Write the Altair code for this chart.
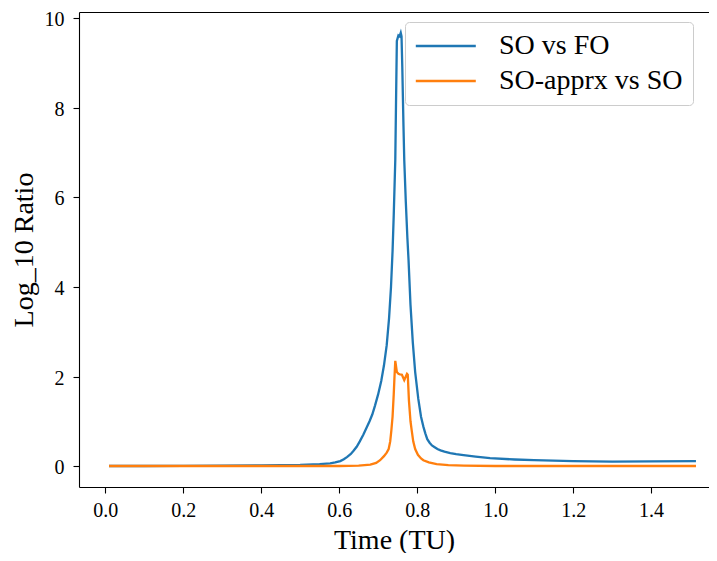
import altair as alt
import pandas as pd

# SO vs FO (blue)
t_blue = [0.01, 0.10, 0.20, 0.30, 0.40, 0.45, 0.50, 0.55, 0.577, 0.59, 0.603, 0.612,
          0.620, 0.630, 0.637, 0.645, 0.653, 0.662, 0.670, 0.678, 0.685, 0.692, 0.700,
          0.708, 0.715, 0.722, 0.728, 0.733, 0.737, 0.740, 0.744, 0.746, 0.748, 0.752,
          0.755, 0.758, 0.760, 0.762, 0.765, 0.767, 0.771, 0.775, 0.778, 0.783, 0.789,
          0.795, 0.803, 0.810, 0.816, 0.821, 0.826, 0.832, 0.838, 0.845, 0.852, 0.860,
          0.870, 0.885, 0.900, 0.919, 0.950, 0.987, 1.05, 1.10, 1.20, 1.30, 1.40, 1.515]
v_blue = [0.0, 0.0, 0.005, 0.01, 0.015, 0.02, 0.025, 0.04, 0.06, 0.08, 0.11, 0.15,
          0.20, 0.27, 0.34, 0.43, 0.55, 0.70, 0.85, 1.00, 1.15, 1.35, 1.60,
          1.90, 2.25, 2.70, 3.30, 4.00, 4.80, 5.60, 6.84, 8.20, 9.50, 9.62,
          9.60, 9.68, 9.60, 8.90, 7.60, 6.84, 5.90, 5.10, 4.60, 3.60, 2.75,
          2.10, 1.50, 1.10, 0.88, 0.73, 0.60, 0.52, 0.46, 0.42, 0.38, 0.35,
          0.32, 0.29, 0.265, 0.245, 0.21, 0.175, 0.145, 0.13, 0.11, 0.10, 0.105, 0.11]

# SO-apprx vs SO (orange)
t_orange = [0.01, 0.20, 0.40, 0.60, 0.65, 0.68, 0.695, 0.705, 0.715, 0.722, 0.727,
            0.731, 0.734, 0.737, 0.740, 0.742, 0.744, 0.748, 0.752, 0.756, 0.761,
            0.767, 0.771, 0.774, 0.776, 0.779, 0.783, 0.786, 0.790, 0.795, 0.802,
            0.810, 0.816, 0.830, 0.850, 0.880, 0.920, 1.00, 1.20, 1.40, 1.515]
v_orange = [0.0, 0.0, 0.0, 0.0, 0.01, 0.03, 0.07, 0.13, 0.22, 0.30, 0.38,
            0.55, 0.80, 1.10, 1.60, 2.00, 2.35, 2.10, 2.06, 2.05, 2.04,
            1.92, 2.00, 2.06, 2.04, 1.46, 1.00, 0.80, 0.55, 0.38, 0.25,
            0.17, 0.13, 0.08, 0.04, 0.02, 0.01, 0.0, 0.0, 0.0, 0.0]

series_names = ["SO vs FO", "SO-apprx vs SO"]
series_colors = ["#1f77b4", "#ff7f0e"]

df = pd.concat([
    pd.DataFrame({"t": t_blue, "v": v_blue, "series": series_names[0]}),
    pd.DataFrame({"t": t_orange, "v": v_orange, "series": series_names[1]}),
])

x_ticks = [0.0, 0.2, 0.4, 0.6, 0.8, 1.0, 1.2, 1.4]
y_ticks = [0, 2, 4, 6, 8, 10]

FONT = "Liberation Serif"

x_scale = alt.Scale(domain=[-0.067, 1.5484], nice=False, zero=False)
y_scale = alt.Scale(domain=[-0.469, 10.145], nice=False, zero=False)

lines = alt.Chart(df).mark_line(strokeWidth=2.3).encode(
    x=alt.X("t:Q", title="Time (TU)", scale=x_scale,
            axis=alt.Axis(values=x_ticks, format=".1f", grid=False, tickSize=6,
                          labelPadding=7, titlePadding=6)),
    y=alt.Y("v:Q", title="Log_10 Ratio", scale=y_scale,
            axis=alt.Axis(values=y_ticks, format="d", grid=False, tickSize=6,
                          labelPadding=9, labelOffset=1.5, titlePadding=6)),
    color=alt.Color("series:N", title=None,
                    scale=alt.Scale(domain=series_names, range=series_colors),
                    legend=alt.Legend(orient="none", legendX=326, legendY=10,
                                      symbolType="M-2.2,0H7.8", symbolSize=144,
                                      symbolStrokeWidth=2.3, labelOffset=56,
                                      labelFontSize=28, labelFont=FONT,
                                      labelLimit=400,
                                      rowPadding=7, padding=10,
                                      strokeColor="#cccccc", fillColor="white",
                                      cornerRadius=4)),
    order="t:Q",
)

top_spine = alt.Chart(df).mark_point(opacity=0).encode(
    x=alt.X("t:Q", scale=x_scale,
            axis=alt.Axis(orient="top", labels=False, ticks=False, grid=False,
                          title=None)),
    y=alt.Y("v:Q", scale=y_scale),
)

chart = alt.layer(lines, top_spine).resolve_axis(x="independent").properties(
    width=630, height=475,
    autosize=alt.AutoSizeParams(type="none"),
    padding={"left": 71, "top": 4, "right": 0, "bottom": 66},
).configure_view(
    stroke=None
).configure_axis(
    labelFont=FONT, titleFont=FONT, labelFontSize=20, titleFontSize=28,
    titleFontWeight="normal", labelColor="black", titleColor="black",
    domainColor="black", tickColor="black", domainWidth=1.1, tickWidth=1.1
)

chart.save("out.html", embed_options={"renderer": "svg", "actions": False})
